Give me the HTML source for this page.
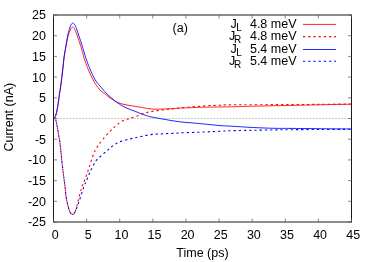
<!DOCTYPE html>
<html><head><meta charset="utf-8"><style>
html,body{margin:0;padding:0;background:#fff;}
svg{display:block;will-change:transform;}
text{font-family:"Liberation Sans",sans-serif;font-size:12.5px;fill:#000;}
</style></head><body>
<svg width="374" height="262" viewBox="0 0 374 262">
<rect width="374" height="262" fill="#fff"/>
<line x1="53.5" y1="118.50" x2="351.5" y2="118.50" stroke="#a8a8a8" stroke-width="0.7" stroke-dasharray="2,1.2"/>
<path d="M53.60,118.50 C53.80,118.33 54.37,118.27 54.80,117.50 C55.23,116.73 55.70,115.83 56.20,113.90 C56.70,111.97 57.27,109.12 57.80,105.90 C58.33,102.68 58.87,98.25 59.40,94.60 C59.93,90.95 60.47,87.95 61.00,84.00 C61.53,80.05 62.08,75.40 62.60,70.90 C63.12,66.40 63.53,61.10 64.10,57.00 C64.67,52.90 65.42,49.42 66.00,46.30 C66.58,43.18 67.05,40.63 67.60,38.30 C68.15,35.97 68.75,33.92 69.30,32.30 C69.85,30.68 70.47,29.40 70.90,28.60 C71.33,27.80 71.58,27.75 71.90,27.50 C72.22,27.25 72.52,27.10 72.80,27.10 C73.08,27.10 73.33,27.25 73.60,27.50 C73.87,27.75 74.00,27.80 74.40,28.60 C74.80,29.40 75.38,30.68 76.00,32.30 C76.62,33.92 77.30,35.97 78.10,38.30 C78.90,40.63 79.75,42.85 80.80,46.30 C81.85,49.75 83.23,55.32 84.40,59.00 C85.57,62.68 86.70,65.62 87.80,68.40 C88.90,71.18 89.92,73.42 91.00,75.70 C92.08,77.98 93.22,80.23 94.30,82.10 C95.38,83.97 96.38,85.42 97.50,86.90 C98.62,88.38 99.78,89.87 101.00,91.00 C102.22,92.13 103.63,92.80 104.80,93.70 C105.97,94.60 106.80,95.48 108.00,96.40 C109.20,97.32 110.67,98.32 112.00,99.20 C113.33,100.08 114.67,101.02 116.00,101.70 C117.33,102.38 118.67,102.85 120.00,103.30 C121.33,103.75 122.33,104.03 124.00,104.40 C125.67,104.77 128.15,105.17 130.00,105.50 C131.85,105.83 133.43,106.13 135.10,106.40 C136.77,106.67 138.12,106.78 140.00,107.10 C141.88,107.42 144.27,107.97 146.40,108.30 C148.53,108.63 150.65,108.95 152.80,109.10 C154.95,109.25 156.80,109.25 159.30,109.20 C161.80,109.15 163.88,109.00 167.80,108.80 C171.72,108.60 176.73,108.27 182.80,108.00 C188.87,107.73 196.10,107.40 204.20,107.20 C212.30,107.00 223.30,106.97 231.40,106.80 C239.50,106.63 243.03,106.43 252.80,106.20 C262.57,105.97 278.80,105.63 290.00,105.40 C301.20,105.17 309.75,105.00 320.00,104.80 C330.25,104.60 346.25,104.30 351.50,104.20" fill="none" stroke="#ff0000" stroke-width="0.85" stroke-linejoin="round"/>
<path d="M53.60,118.50 C53.93,118.67 55.00,118.18 55.60,119.50 C56.20,120.82 56.67,123.65 57.20,126.40 C57.73,129.15 58.32,133.07 58.80,136.00 C59.28,138.93 59.70,141.00 60.10,144.00 C60.50,147.00 60.88,150.87 61.20,154.00 C61.52,157.13 61.60,159.18 62.00,162.80 C62.40,166.42 63.07,171.50 63.60,175.70 C64.13,179.90 64.80,184.58 65.20,188.00 C65.60,191.42 65.53,193.22 66.00,196.20 C66.47,199.18 67.32,203.22 68.00,205.90 C68.68,208.58 69.35,210.88 70.10,212.30 C70.85,213.72 71.70,214.40 72.50,214.40 C73.30,214.40 74.10,213.98 74.90,212.30 C75.70,210.62 76.50,207.25 77.30,204.30 C78.10,201.35 78.90,197.55 79.70,194.60 C80.50,191.65 81.30,188.95 82.10,186.60 C82.90,184.25 83.43,183.38 84.50,180.50 C85.57,177.62 87.17,173.22 88.50,169.30 C89.83,165.38 91.35,160.22 92.50,157.00 C93.65,153.78 94.47,151.88 95.40,150.00 C96.33,148.12 96.85,147.48 98.10,145.70 C99.35,143.92 100.92,141.70 102.90,139.30 C104.88,136.90 108.12,133.30 110.00,131.30 C111.88,129.30 112.42,128.88 114.20,127.30 C115.98,125.72 118.55,123.13 120.70,121.80 C122.85,120.47 125.30,119.95 127.10,119.30 C128.90,118.65 129.92,118.42 131.50,117.90 C133.08,117.38 134.85,116.83 136.60,116.20 C138.35,115.57 140.30,114.72 142.00,114.10 C143.70,113.48 145.12,112.95 146.80,112.50 C148.48,112.05 150.32,111.72 152.10,111.40 C153.88,111.08 155.72,110.83 157.50,110.60 C159.28,110.37 161.02,110.22 162.80,110.00 C164.58,109.78 166.42,109.52 168.20,109.30 C169.98,109.08 171.07,108.98 173.50,108.70 C175.93,108.42 177.68,108.07 182.80,107.60 C187.92,107.13 198.00,106.30 204.20,105.90 C210.40,105.50 215.47,105.38 220.00,105.20 C224.53,105.02 219.73,104.90 231.40,104.80 C243.07,104.70 275.23,104.68 290.00,104.60 C304.77,104.52 309.75,104.40 320.00,104.30 C330.25,104.20 346.25,104.05 351.50,104.00" fill="none" stroke="#ff0000" stroke-width="1.1" stroke-dasharray="2.2,3" stroke-linejoin="round"/>
<path d="M53.60,118.50 C53.80,118.33 54.37,118.27 54.80,117.50 C55.23,116.73 55.70,115.83 56.20,113.90 C56.70,111.97 57.27,109.12 57.80,105.90 C58.33,102.68 58.87,98.25 59.40,94.60 C59.93,90.95 60.47,87.95 61.00,84.00 C61.53,80.05 62.08,75.40 62.60,70.90 C63.12,66.40 63.53,61.23 64.10,57.00 C64.67,52.77 65.42,49.02 66.00,45.50 C66.58,41.98 67.05,38.58 67.60,35.90 C68.15,33.22 68.75,31.23 69.30,29.40 C69.85,27.57 70.47,25.87 70.90,24.90 C71.33,23.93 71.58,23.88 71.90,23.60 C72.22,23.32 72.48,23.20 72.80,23.20 C73.12,23.20 73.45,23.32 73.80,23.60 C74.15,23.88 74.45,24.07 74.90,24.90 C75.35,25.73 75.83,26.77 76.50,28.60 C77.17,30.43 77.97,33.08 78.90,35.90 C79.83,38.72 80.92,41.73 82.10,45.50 C83.28,49.27 84.78,54.82 86.00,58.50 C87.22,62.18 88.30,64.87 89.40,67.60 C90.50,70.33 91.52,72.67 92.60,74.90 C93.68,77.13 94.43,78.87 95.90,81.00 C97.37,83.13 99.42,85.42 101.40,87.70 C103.38,89.98 105.65,92.58 107.80,94.70 C109.95,96.82 112.15,98.70 114.30,100.40 C116.45,102.10 118.57,103.58 120.70,104.90 C122.83,106.22 124.70,107.23 127.10,108.30 C129.50,109.37 132.43,110.27 135.10,111.30 C137.77,112.33 140.50,113.58 143.10,114.50 C145.70,115.42 147.65,116.08 150.70,116.80 C153.75,117.52 157.85,118.15 161.40,118.80 C164.95,119.45 168.43,120.13 172.00,120.70 C175.57,121.27 179.22,121.82 182.80,122.20 C186.38,122.58 189.93,122.70 193.50,123.00 C197.07,123.30 199.78,123.57 204.20,124.00 C208.62,124.43 215.47,125.23 220.00,125.60 C224.53,125.97 225.93,125.88 231.40,126.20 C236.87,126.52 245.67,127.15 252.80,127.50 C259.93,127.85 268.00,128.15 274.20,128.30 C280.40,128.45 282.37,128.33 290.00,128.40 C297.63,128.47 309.75,128.60 320.00,128.70 C330.25,128.80 346.25,128.95 351.50,129.00" fill="none" stroke="#0000ff" stroke-width="0.85" stroke-linejoin="round"/>
<path d="M53.60,118.50 C53.93,118.67 55.00,118.18 55.60,119.50 C56.20,120.82 56.67,123.65 57.20,126.40 C57.73,129.15 58.32,133.07 58.80,136.00 C59.28,138.93 59.70,141.00 60.10,144.00 C60.50,147.00 60.88,150.87 61.20,154.00 C61.52,157.13 61.60,159.18 62.00,162.80 C62.40,166.42 63.07,171.50 63.60,175.70 C64.13,179.90 64.80,184.58 65.20,188.00 C65.60,191.42 65.53,193.22 66.00,196.20 C66.47,199.18 67.32,203.22 68.00,205.90 C68.68,208.58 69.28,210.88 70.10,212.30 C70.92,213.72 72.03,214.53 72.90,214.40 C73.77,214.27 74.43,213.18 75.30,211.50 C76.17,209.82 77.10,207.12 78.10,204.30 C79.10,201.48 80.28,197.68 81.30,194.60 C82.32,191.52 83.27,188.28 84.20,185.80 C85.13,183.32 85.78,182.32 86.90,179.70 C88.02,177.08 89.43,173.18 90.90,170.10 C92.37,167.02 93.97,163.62 95.70,161.20 C97.43,158.78 99.42,157.33 101.30,155.60 C103.18,153.87 105.55,152.05 107.00,150.80 C108.45,149.55 108.83,149.07 110.00,148.10 C111.17,147.13 112.42,146.02 114.00,145.00 C115.58,143.98 116.80,143.02 119.50,142.00 C122.20,140.98 126.78,139.78 130.20,138.90 C133.62,138.02 136.58,137.42 140.00,136.70 C143.42,135.98 147.13,135.07 150.70,134.60 C154.27,134.13 157.85,134.10 161.40,133.90 C164.95,133.70 168.43,133.58 172.00,133.40 C175.57,133.22 177.43,133.03 182.80,132.80 C188.17,132.57 198.00,132.25 204.20,132.00 C210.40,131.75 215.47,131.52 220.00,131.30 C224.53,131.08 225.93,130.87 231.40,130.70 C236.87,130.53 245.67,130.43 252.80,130.30 C259.93,130.17 268.00,130.00 274.20,129.90 C280.40,129.80 282.37,129.77 290.00,129.70 C297.63,129.63 309.75,129.57 320.00,129.50 C330.25,129.43 346.25,129.33 351.50,129.30" fill="none" stroke="#0000ff" stroke-width="1.1" stroke-dasharray="2.2,3" stroke-dashoffset="2.6" stroke-linejoin="round"/>
<rect x="53.5" y="15.0" width="298.0" height="207.0" fill="none" stroke="#1a1a1a" stroke-width="1"/>
<line x1="53.5" y1="222.00" x2="57.0" y2="222.00" stroke="#555" stroke-width="0.7"/>
<line x1="351.5" y1="222.00" x2="348.0" y2="222.00" stroke="#555" stroke-width="0.7"/>
<text x="46" y="226.40" text-anchor="end">-25</text>
<line x1="53.5" y1="201.30" x2="57.0" y2="201.30" stroke="#555" stroke-width="0.7"/>
<line x1="351.5" y1="201.30" x2="348.0" y2="201.30" stroke="#555" stroke-width="0.7"/>
<text x="46" y="205.70" text-anchor="end">-20</text>
<line x1="53.5" y1="180.60" x2="57.0" y2="180.60" stroke="#555" stroke-width="0.7"/>
<line x1="351.5" y1="180.60" x2="348.0" y2="180.60" stroke="#555" stroke-width="0.7"/>
<text x="46" y="185.00" text-anchor="end">-15</text>
<line x1="53.5" y1="159.90" x2="57.0" y2="159.90" stroke="#555" stroke-width="0.7"/>
<line x1="351.5" y1="159.90" x2="348.0" y2="159.90" stroke="#555" stroke-width="0.7"/>
<text x="46" y="164.30" text-anchor="end">-10</text>
<line x1="53.5" y1="139.20" x2="57.0" y2="139.20" stroke="#555" stroke-width="0.7"/>
<line x1="351.5" y1="139.20" x2="348.0" y2="139.20" stroke="#555" stroke-width="0.7"/>
<text x="46" y="143.60" text-anchor="end">-5</text>
<line x1="53.5" y1="118.50" x2="57.0" y2="118.50" stroke="#555" stroke-width="0.7"/>
<line x1="351.5" y1="118.50" x2="348.0" y2="118.50" stroke="#555" stroke-width="0.7"/>
<text x="46" y="122.90" text-anchor="end">0</text>
<line x1="53.5" y1="97.80" x2="57.0" y2="97.80" stroke="#555" stroke-width="0.7"/>
<line x1="351.5" y1="97.80" x2="348.0" y2="97.80" stroke="#555" stroke-width="0.7"/>
<text x="46" y="102.20" text-anchor="end">5</text>
<line x1="53.5" y1="77.10" x2="57.0" y2="77.10" stroke="#555" stroke-width="0.7"/>
<line x1="351.5" y1="77.10" x2="348.0" y2="77.10" stroke="#555" stroke-width="0.7"/>
<text x="46" y="81.50" text-anchor="end">10</text>
<line x1="53.5" y1="56.40" x2="57.0" y2="56.40" stroke="#555" stroke-width="0.7"/>
<line x1="351.5" y1="56.40" x2="348.0" y2="56.40" stroke="#555" stroke-width="0.7"/>
<text x="46" y="60.80" text-anchor="end">15</text>
<line x1="53.5" y1="35.70" x2="57.0" y2="35.70" stroke="#555" stroke-width="0.7"/>
<line x1="351.5" y1="35.70" x2="348.0" y2="35.70" stroke="#555" stroke-width="0.7"/>
<text x="46" y="40.10" text-anchor="end">20</text>
<line x1="53.5" y1="15.00" x2="57.0" y2="15.00" stroke="#555" stroke-width="0.7"/>
<line x1="351.5" y1="15.00" x2="348.0" y2="15.00" stroke="#555" stroke-width="0.7"/>
<text x="46" y="19.40" text-anchor="end">25</text>
<line x1="53.50" y1="222.0" x2="53.50" y2="218.5" stroke="#555" stroke-width="0.7"/>
<line x1="53.50" y1="15.0" x2="53.50" y2="18.5" stroke="#555" stroke-width="0.7"/>
<text x="55.20" y="239" text-anchor="middle">0</text>
<line x1="86.61" y1="222.0" x2="86.61" y2="218.5" stroke="#555" stroke-width="0.7"/>
<line x1="86.61" y1="15.0" x2="86.61" y2="18.5" stroke="#555" stroke-width="0.7"/>
<text x="88.31" y="239" text-anchor="middle">5</text>
<line x1="119.72" y1="222.0" x2="119.72" y2="218.5" stroke="#555" stroke-width="0.7"/>
<line x1="119.72" y1="15.0" x2="119.72" y2="18.5" stroke="#555" stroke-width="0.7"/>
<text x="121.42" y="239" text-anchor="middle">10</text>
<line x1="152.83" y1="222.0" x2="152.83" y2="218.5" stroke="#555" stroke-width="0.7"/>
<line x1="152.83" y1="15.0" x2="152.83" y2="18.5" stroke="#555" stroke-width="0.7"/>
<text x="154.53" y="239" text-anchor="middle">15</text>
<line x1="185.94" y1="222.0" x2="185.94" y2="218.5" stroke="#555" stroke-width="0.7"/>
<line x1="185.94" y1="15.0" x2="185.94" y2="18.5" stroke="#555" stroke-width="0.7"/>
<text x="187.64" y="239" text-anchor="middle">20</text>
<line x1="219.06" y1="222.0" x2="219.06" y2="218.5" stroke="#555" stroke-width="0.7"/>
<line x1="219.06" y1="15.0" x2="219.06" y2="18.5" stroke="#555" stroke-width="0.7"/>
<text x="220.76" y="239" text-anchor="middle">25</text>
<line x1="252.17" y1="222.0" x2="252.17" y2="218.5" stroke="#555" stroke-width="0.7"/>
<line x1="252.17" y1="15.0" x2="252.17" y2="18.5" stroke="#555" stroke-width="0.7"/>
<text x="253.87" y="239" text-anchor="middle">30</text>
<line x1="285.28" y1="222.0" x2="285.28" y2="218.5" stroke="#555" stroke-width="0.7"/>
<line x1="285.28" y1="15.0" x2="285.28" y2="18.5" stroke="#555" stroke-width="0.7"/>
<text x="286.98" y="239" text-anchor="middle">35</text>
<line x1="318.39" y1="222.0" x2="318.39" y2="218.5" stroke="#555" stroke-width="0.7"/>
<line x1="318.39" y1="15.0" x2="318.39" y2="18.5" stroke="#555" stroke-width="0.7"/>
<text x="320.09" y="239" text-anchor="middle">40</text>
<line x1="351.50" y1="222.0" x2="351.50" y2="218.5" stroke="#555" stroke-width="0.7"/>
<line x1="351.50" y1="15.0" x2="351.50" y2="18.5" stroke="#555" stroke-width="0.7"/>
<text x="353.20" y="239" text-anchor="middle">45</text>
<text x="202.5" y="257.3" text-anchor="middle">Time (ps)</text>
<text transform="translate(13.2,117.2) rotate(-90)" text-anchor="middle">Current (nA)</text>
<text x="180.2" y="31.5" text-anchor="middle">(a)</text>
<text x="230.5" y="28.1">J</text>
<text x="236.3" y="30.6" style="font-size:10px">L</text>
<text x="296.5" y="28.1" text-anchor="end">4.8 meV</text>
<line x1="303" y1="24.4" x2="336" y2="24.4" stroke="#ff0000" stroke-width="0.85"/>
<text x="229.0" y="40.3">J</text>
<text x="233.9" y="42.8" style="font-size:10px">R</text>
<text x="296.5" y="40.3" text-anchor="end">4.8 meV</text>
<line x1="303" y1="36.6" x2="336" y2="36.6" stroke="#ff0000" stroke-width="1.1" stroke-dasharray="2.2,3"/>
<text x="230.5" y="53.2">J</text>
<text x="236.3" y="55.7" style="font-size:10px">L</text>
<text x="296.5" y="53.2" text-anchor="end">5.4 meV</text>
<line x1="303" y1="49.5" x2="336" y2="49.5" stroke="#0000ff" stroke-width="0.85"/>
<text x="229.0" y="65.0">J</text>
<text x="233.9" y="67.5" style="font-size:10px">R</text>
<text x="296.5" y="65.0" text-anchor="end">5.4 meV</text>
<line x1="303" y1="61.3" x2="336" y2="61.3" stroke="#0000ff" stroke-width="1.1" stroke-dasharray="2.2,3"/>
</svg></body></html>
